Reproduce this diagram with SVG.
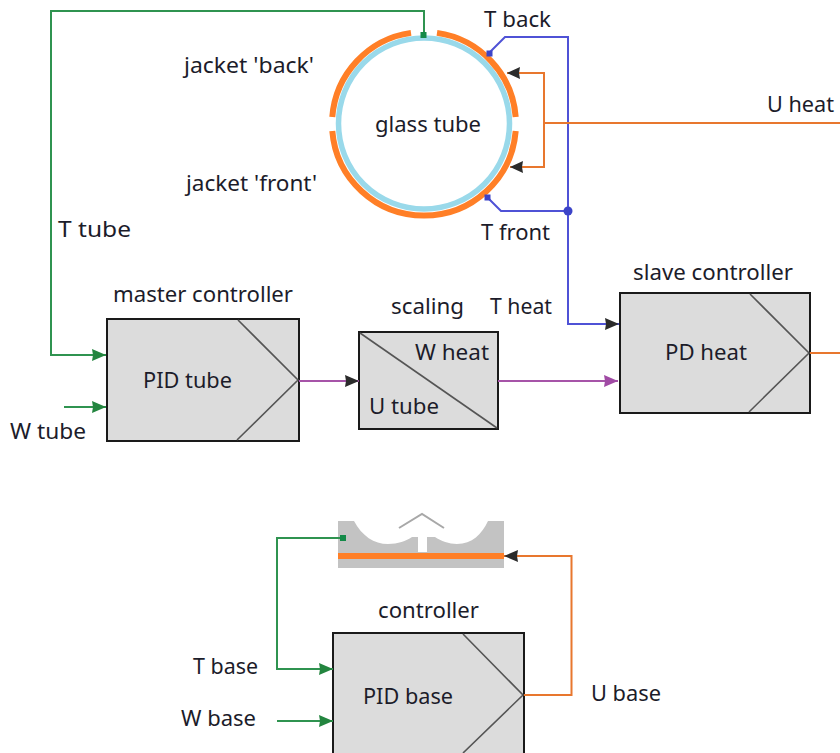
<svg xmlns="http://www.w3.org/2000/svg" width="840" height="753" viewBox="0 0 840 753">
<style>
text{font-family:"Noto Sans","Open Sans","DejaVu Sans",sans-serif;font-size:22px;fill:#1c1c2a}
.box{fill:#dcdcdc;stroke:#1a1a1a;stroke-width:2}
.diag{fill:none;stroke:#555;stroke-width:1.6}
.c{fill:none;stroke-width:2}
.g{stroke:#2f9350}.b{stroke:#4f52d6}.o{stroke:#e8772e}.p{stroke:#a654a8}
</style>
<defs>
<marker id="ad" markerUnits="userSpaceOnUse" markerWidth="15" markerHeight="14" refX="14" refY="7" orient="auto"><path d="M0 1L14 7L0 13L1 7Z" fill="#2b2b2b"/></marker>
<marker id="ag" markerUnits="userSpaceOnUse" markerWidth="15" markerHeight="14" refX="14" refY="7" orient="auto"><path d="M0 1L14 7L0 13L1 7Z" fill="#23853f"/></marker>
<marker id="ap" markerUnits="userSpaceOnUse" markerWidth="15" markerHeight="14" refX="14" refY="7" orient="auto"><path d="M0 1L14 7L0 13L1 7Z" fill="#a04aa4"/></marker>
</defs>
<rect width="840" height="753" fill="#fff"/>
<g id="glass-tube">
<circle cx="424" cy="123.500" r="85.500" fill="#fff" stroke="#99d9ea" stroke-width="5.500"/>
<path fill="none" stroke="#ff7f27" stroke-width="6" d="M437 32.900A92 92 0 0 1 515.700 117M515.700 131A92 92 0 0 1 332.300 131M332.300 117A92 92 0 0 1 411 32.900"/>
<text x="375" y="132" textLength="106" lengthAdjust="spacingAndGlyphs">glass tube</text>
</g>
<g id="master-controller">
<rect class="box" x="107" y="319" width="192" height="122"/>
<path class="diag" d="M238 320L298 380L237 440"/>
<text x="143" y="388" textLength="89" lengthAdjust="spacingAndGlyphs">PID tube</text>
</g>
<g id="scaling">
<rect class="box" x="359" y="332" width="139" height="97"/>
<path class="diag" d="M360 333L497 428"/>
<text x="415" y="360" textLength="74" lengthAdjust="spacingAndGlyphs">W heat</text>
<text x="369" y="414" textLength="70" lengthAdjust="spacingAndGlyphs">U tube</text>
</g>
<g id="slave-controller">
<rect class="box" x="620" y="293" width="190" height="120"/>
<path class="diag" d="M750 294L809 353L749 412"/>
<text x="665" y="360" textLength="82" lengthAdjust="spacingAndGlyphs">PD heat</text>
</g>
<g id="base-plate">
<path fill="#c3c3c3" d="M338 521H354C362 536 374 544 388 544C398 544 406 541 412 537H418V552H427V537H435C441 541 449 544 457 544C472 544 482 534 488 521H504V568H338Z"/>
<rect x="338" y="553" width="166" height="6" fill="#ff7f27"/>
<path fill="none" stroke="#a8a8a8" stroke-width="2" d="M399 528L422 514L444 528"/>
</g>
<g id="controller">
<rect class="box" x="333" y="633" width="191" height="130"/>
<path class="diag" d="M463 634L523 695L463 753"/>
<text x="363" y="704" textLength="90" lengthAdjust="spacingAndGlyphs">PID base</text>
</g>
<g id="connectors">
<path class="c g" d="M424 34V11H51V355H106" marker-end="url(#ag)"/>
<path class="c g" d="M64 407H106" marker-end="url(#ag)"/>
<path class="c b" d="M489 53L505 37H568V324H619" marker-end="url(#ad)"/>
<path class="c b" d="M487 197L501 211H568"/>
<path class="c o" d="M840 123H544"/>
<path class="c o" d="M507 73H544V167H510"/>
<path d="M507 73L520 67L519 73L520 79Z" fill="#2b2b2b"/>
<path d="M510 167L523 161L522 167L523 173Z" fill="#2b2b2b"/>
<path class="c p" d="M299 381H359" marker-end="url(#ad)"/>
<path class="c p" d="M498 381H618" marker-end="url(#ap)"/>
<path class="c o" d="M810 353H840"/>
<path class="c g" d="M343 538H277V669H333" marker-end="url(#ag)"/>
<path class="c g" d="M277 721H333" marker-end="url(#ag)"/>
<path class="c o" d="M524 695H571.500V556H504" marker-end="url(#ad)"/>
<rect x="420.500" y="32" width="6" height="6" fill="#138a48"/>
<rect x="486.500" y="50.500" width="6" height="6" fill="#3c44c8"/>
<rect x="484.500" y="194.500" width="6" height="6" fill="#3c44c8"/>
<circle cx="568" cy="211" r="4.500" fill="#3c44c8"/>
<rect x="340" y="535" width="6" height="6" fill="#138a48"/>
</g>
<g id="labels">
<text x="484" y="27" textLength="67" lengthAdjust="spacingAndGlyphs">T back</text>
<text x="184" y="73" textLength="130" lengthAdjust="spacingAndGlyphs">jacket 'back'</text>
<text x="767" y="112" textLength="67" lengthAdjust="spacingAndGlyphs">U heat</text>
<text x="186" y="191" textLength="131" lengthAdjust="spacingAndGlyphs">jacket 'front'</text>
<text x="481" y="240" textLength="69" lengthAdjust="spacingAndGlyphs">T front</text>
<text x="58" y="237" textLength="73" lengthAdjust="spacingAndGlyphs">T tube</text>
<text x="113" y="302" textLength="180" lengthAdjust="spacingAndGlyphs">master controller</text>
<text x="391" y="314" textLength="73" lengthAdjust="spacingAndGlyphs">scaling</text>
<text x="490" y="314" textLength="62" lengthAdjust="spacingAndGlyphs">T heat</text>
<text x="633" y="280" textLength="160" lengthAdjust="spacingAndGlyphs">slave controller</text>
<text x="10" y="439" textLength="76" lengthAdjust="spacingAndGlyphs">W tube</text>
<text x="378" y="618" textLength="101" lengthAdjust="spacingAndGlyphs">controller</text>
<text x="193" y="674" textLength="65" lengthAdjust="spacingAndGlyphs">T base</text>
<text x="181" y="726" textLength="75" lengthAdjust="spacingAndGlyphs">W base</text>
<text x="591" y="701" textLength="70" lengthAdjust="spacingAndGlyphs">U base</text>
</g>
</svg>
